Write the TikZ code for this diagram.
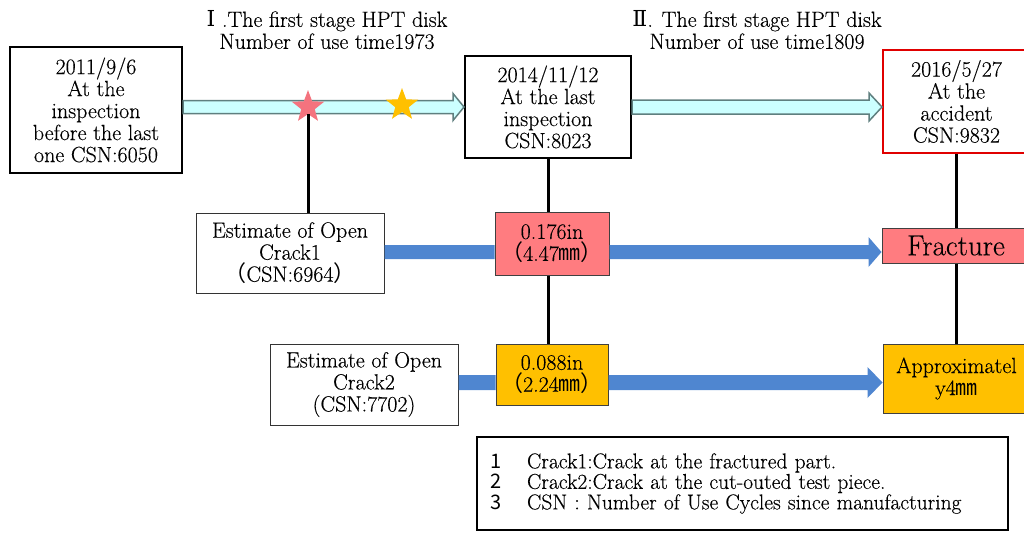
\documentclass[tikz,border=0pt]{standalone}
\usepackage{fontspec}
\setmainfont{Latin Modern Roman}[FakeBold=0.3]
\newfontfamily\cjk{Noto Sans CJK JP}
\newfontfamily\romfont{DejaVu Serif}
\usetikzlibrary{shapes.geometric,calc}
\definecolor{pinkfill}{HTML}{FF7C80}
\definecolor{orangefill}{HTML}{FFC000}
\definecolor{cyanfill}{HTML}{CCFFFF}
\definecolor{cyanedge}{HTML}{5F7F7F}
\definecolor{bluebar}{HTML}{4F86D0}
\definecolor{starpink}{HTML}{F4737E}
\definecolor{staryellow}{HTML}{FFC000}
\definecolor{accred}{HTML}{E00000}
\newcommand\fatarr[6]{%
  \path[#6] ($(#1)+(0,-#3)$) -- ($(#2)+(-#5,-#3)$) -- ($(#2)+(-#5,-#4)$) -- (#2)
    -- ($(#2)+(-#5,#4)$) -- ($(#2)+(-#5,#3)$) -- ($(#1)+(0,#3)$) -- cycle;}
\begin{document}
\begin{tikzpicture}[x=1pt,y=-1pt,
  every node/.style={font=\fontsize{22}{22}\selectfont, align=center, inner sep=0pt},
  mainbox/.style={draw=black, line width=2pt, fill=white},
  crackbox/.style={draw=black!80, line width=1pt, fill=white},
  pinkbox/.style={draw=black!75, line width=1pt, fill=pinkfill},
  orangebox/.style={draw=black!75, line width=1pt, fill=orangefill},
  topbar/.style={fill=cyanfill, draw=cyanedge, line width=1.5pt, line join=miter},
  bluearr/.style={fill=bluebar},
  vline/.style={draw=black, line width=3pt}]
\useasboundingbox (0,0) rectangle (1024,535);

% titles
\node (T1) at (327,30) {{\romfont Ⅰ} .The first stage HPT disk\\Number of use time1973};
\node (T2) at (757,30) {{\romfont Ⅱ}. The first stage HPT disk\\Number of use time1809};

% top row
\node[mainbox, minimum width=172, minimum height=126] (A) at (96,110)
  {2011/9/6\\At the\\inspection\\before the last\\one CSN:6050};
\node[mainbox, minimum width=166, minimum height=102] (B) at (548,107)
  {2014/11/12\\At the last\\inspection\\CSN:8023};
\node[draw=accred, line width=2pt, fill=white, minimum width=147, minimum height=103] (C) at (956.5,101.5)
  {2016/5/27\\At the\\accident\\CSN:9832};

% crack rows
\node[crackbox, minimum width=188, minimum height=80] (K1) at (290,253)
  {Estimate of Open\\Crack1\\{\cjk （}CSN:6964{\cjk ）}};
\node[pinkbox, minimum width=114, minimum height=63] (P1) at (552,243.5)
  {0.176in\\{\cjk （}4.47{\cjk ㎜）}};
\node[pinkbox, minimum width=148, minimum height=35, font=\fontsize{29}{30}\selectfont] (F) at (956,245.5)
  {Fracture};
\node[crackbox, minimum width=188, minimum height=81] (K2) at (364,384.5)
  {Estimate of Open\\Crack2\\(CSN:7702)};
\node[orangebox, minimum width=112, minimum height=61] (P2) at (552,374.5)
  {0.088in\\{\cjk （}2.24{\cjk ㎜）}};
\node[orangebox, minimum width=147, minimum height=69] (AP) at (956.5,378.5)
  {Approximatel\\y4{\cjk ㎜}};

% legend
\node[draw=black, line width=2.5pt, fill=white, minimum width=531, minimum height=93,
  text width=505, inner xsep=13pt, align=left, font=\fontsize{21.5}{20.5}\selectfont] (L) at (742.5,483.5)
  {\makebox[37pt][l]{\cjk\fontsize{20}{20}\selectfont 1}Crack1:Crack at the fractured part.\\
   \makebox[37pt][l]{\cjk\fontsize{20}{20}\selectfont 2}Crack2:Crack at the cut-outed test piece.\\
   \makebox[37pt][l]{\cjk\fontsize{20}{20}\selectfont 3}CSN : Number of Use Cycles since manufacturing};

% top arrows
\coordinate (t1s) at ($(A.east)+(0,-3)$);
\coordinate (t1e) at (B.west |- t1s);
\coordinate (t2s) at (B.east |- t1s);
\coordinate (t2e) at (C.west |- t1s);
\fatarr{t1s}{t1e}{6.5}{13.5}{11}{topbar}
\fatarr{t2s}{t2e}{7}{14}{13}{topbar}

% blue arrows
\coordinate (b1s) at ($(K1.east)+(0,-1)$);
\coordinate (b1e) at (P1.west |- b1s);
\coordinate (b2s) at (P1.east |- b1s);
\coordinate (b2e) at (F.west |- b1s);
\fatarr{b1s}{b1e}{7}{7}{0}{bluearr}
\fatarr{b2s}{b2e}{7}{15}{13}{bluearr}
\coordinate (b3s) at ($(K2.east)+(0,-2)$);
\coordinate (b3e) at (P2.west |- b3s);
\coordinate (b4s) at (P2.east |- b3s);
\coordinate (b4e) at (AP.west |- b3s);
\fatarr{b3s}{b3e}{7.5}{7.5}{0}{bluearr}
\fatarr{b4s}{b4e}{7.5}{15.5}{15}{bluearr}

% stars
\node[star, star points=5, star point ratio=2.4, minimum size=34, fill=starpink] (S1) at (308,107) {};
\node[star, star points=5, star point ratio=2.4, minimum size=34, fill=staryellow] (S2) at (402,105) {};

% vertical connectors
\draw[vline] (S1.south) -- (S1.south |- K1.north);
\draw[vline] (B.south) -- (B.south |- P1.north);
\draw[vline] (B.south |- P1.south) -- (B.south |- P2.north);
\draw[vline] (C.south) -- (C.south |- F.north);
\draw[vline] (C.south |- F.south) -- (C.south |- AP.north);
\end{tikzpicture}
\end{document}
